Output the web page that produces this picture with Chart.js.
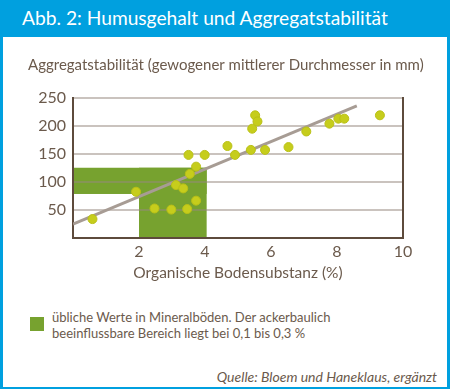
<!DOCTYPE html>
<html>
<head>
<meta charset="utf-8">
<script src="https://cdn.jsdelivr.net/npm/chart.js@4.4.0/dist/chart.umd.min.js"></script>
<style>
  html, body { margin:0; padding:0; }
  body { width:450px; height:389px; background:#00a0df; position:relative; overflow:hidden; font-family: Lato, "Open Sans", sans-serif; }
  .head { position:absolute; left:22px; top:5px; color:#fff; font-size:19.2px; line-height:26px; }
  .panel { position:absolute; left:3px; top:37px; width:444px; height:350px; background:#fff; }
  #wrap { position:absolute; left:0; top:0; width:450px; height:300px; }
  .legend { position:absolute; left:30px; top:309px; color:#6b5a4c; font-size:13px; line-height:16px; }
  .legend .box { position:absolute; left:0; top:8px; width:14px; height:14px; background:#77a22f; }
  .legend .txt { position:absolute; left:22px; top:0; width:380px; }
  .src { position:absolute; right:13px; top:368px; color:#6b5a4c; font-size:14px; font-style:italic; }
</style>
</head>
<body>
<div class="head">Abb. 2: Humusgehalt und Aggregatstabilität</div>
<div class="panel"></div>
<div id="wrap"><canvas id="c"></canvas></div>
<div class="legend"><div class="box"></div><div class="txt">übliche Werte in Mineralböden. Der ackerbaulich<br>beeinflussbare Bereich liegt bei 0,1 bis 0,3 %</div></div>
<div class="src">Quelle: Bloem und Haneklaus, ergänzt</div>
<script>
// Messpunkte: organische Bodensubstanz (%) / Aggregatstabilität
const humus = [0.59, 1.91, 2.47, 2.98, 3.12, 3.34, 3.46, 3.50, 3.54, 3.73, 3.73, 3.99, 4.68, 4.91, 5.39, 5.43, 5.52, 5.59, 5.82, 6.53, 7.07, 7.77, 8.04, 8.22, 9.30];
const stabil = [33, 82, 52, 50, 94, 88, 51, 148, 114, 127, 66, 148, 164, 148, 157, 195, 219, 208, 157, 162, 190, 204, 213, 213, 219];
// Regressionsgerade
const trendX = [0, 8.6];
const trendY = [24, 236];
// übliche Werte in Mineralböden: [x0, x1, y0, y1]
const bandH = [0, 4.05, 78, 125];
const bandV = [2, 4.05, 0, 125];
const xTicks = [2, 4, 6, 8, 10];
const yTicks = [50, 100, 150, 200, 250];

const brown = '#6b5a4c';
const axisCol = '#5e4b3c';

const bands = {
  id: 'bands',
  beforeDraw(chart) {
    const { ctx, scales: { x, y } } = chart;
    ctx.save();
    ctx.fillStyle = '#77a22f';
    [bandH, bandV].forEach(b => {
      const l = x.getPixelForValue(b[0]), r = x.getPixelForValue(b[1]);
      const t = y.getPixelForValue(b[3]), bt = y.getPixelForValue(b[2]);
      ctx.fillRect(l, t, r - l, bt - t);
    });
    ctx.restore();
  }
};

new Chart(document.getElementById('c'), {
  type: 'scatter',
  data: {
    datasets: [
      { data: humus.map((v, i) => ({ x: v, y: stabil[i] })), backgroundColor: '#c6cd1c', borderColor: '#b9c017', borderWidth: 1, pointRadius: 4.5, order: 1 },
      { type: 'line', data: trendX.map((v, i) => ({ x: v, y: trendY[i] })), borderColor: '#a79c94', borderWidth: 3, pointRadius: 0, order: 2 }
    ]
  },
  options: {
    responsive: true, maintainAspectRatio: false, animation: false,
    layout: { padding: { left: 28, right: 0, top: 0, bottom: 0 } },
    plugins: {
      legend: { display: false }, tooltip: { enabled: false },
      title: { display: true, text: 'Aggregatstabilität (gewogener mittlerer Durchmesser in mm)', align: 'start', color: brown,
        font: { family: 'Lato', size: 15, weight: 'normal' }, padding: { top: 56, bottom: 24 } }
    },
    scales: {
      x: {
        type: 'linear', min: 0, max: 10,
        afterFit: s => { s.height = 62.5; },
        afterBuildTicks: s => { s.ticks = xTicks.map(v => ({ value: v })); },
        grid: { display: false, drawTicks: false },
        border: { color: axisCol, width: 2 },
        ticks: { color: brown, padding: 5, font: { family: 'Lato', size: 16 } },
        title: { display: true, text: 'Organische Bodensubstanz (%)', color: brown, font: { family: 'Lato', size: 15.5 }, padding: { top: 0, bottom: 18 } }
      },
      x2: {
        type: 'linear', position: 'top', min: 0, max: 10, display: true,
        afterFit: s => { s.height = 0; },
        grid: { display: false, drawTicks: false }, ticks: { display: false },
        border: { display: false }
      },
      y: {
        min: 0, max: 250,
        afterFit: s => { s.width = 45; },
        afterBuildTicks: s => { s.ticks = yTicks.map(v => ({ value: v })); },
        grid: { color: 'rgba(150,135,125,0.5)', lineWidth: 2, drawTicks: false },
        border: { color: axisCol, width: 2 },
        ticks: { color: brown, padding: 7, font: { family: 'Lato', size: 16 } }
      },
      y2: {
        position: 'right', min: 0, max: 250,
        afterFit: s => { s.width = 47; },
        grid: { display: false, drawTicks: false }, ticks: { display: false },
        border: { color: axisCol, width: 2 }
      }
    }
  },
  plugins: [bands]
});
</script>
</body>
</html>
